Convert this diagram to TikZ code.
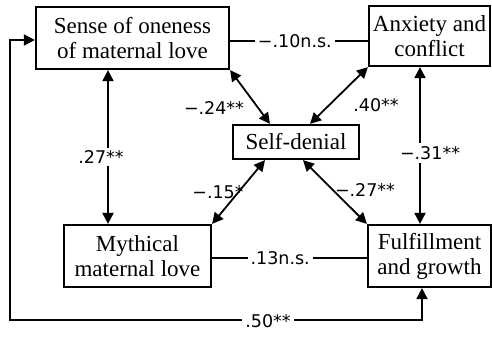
\documentclass[tikz,border=0pt]{standalone}
\usepackage{fontspec}
\setmainfont{Liberation Serif}
\newfontfamily\lblfont{DejaVu Sans}
\usetikzlibrary{arrows.meta}
\begin{document}
\begin{tikzpicture}[x=1pt,y=-1pt,
  box/.style={draw,line width=2.2pt,fill=white,align=center,inner sep=0pt,
    font=\fontsize{23}{25}\selectfont},
  conn/.style={line width=1.8pt},
  bitip/.style={{Triangle[length=11pt,width=11pt]}-{Triangle[length=11pt,width=11pt]}},
  lblf/.style={font=\lblfont\fontsize{17.5}{19}\selectfont},
  lbl/.style={lblf,fill=white,inner sep=3pt}]
\useasboundingbox (0,0) rectangle (492,337);
\node[box,minimum width=193pt,minimum height=62pt] (sense) at (132.5,38) {Sense of oneness\\of maternal love};
\node[box,minimum width=121pt,minimum height=60pt] (anx) at (429.5,36) {Anxiety and\\conflict};
\node[box,minimum width=126pt,minimum height=34pt] (self) at (296,142) {Self-denial};
\node[box,minimum width=147pt,minimum height=62pt] (myth) at (137.5,256) {Mythical\\maternal love};
\node[box,minimum width=123pt,minimum height=62pt] (ful) at (429.5,256) {Fulfillment\\and growth};
\coordinate (corner1) at (10,320);
% lines
\draw[conn] (sense.east |- 0,41) -- (anx.west |- 0,41) node[lbl,pos=0.47] {−.10n.s.};
\draw[conn] (myth.east |- 0,258) -- (ful.west |- 0,258) node[lbl,pos=0.44] {.13n.s.};
\draw[conn,bitip] (sense.south -| 108,0) -- (myth.north -| 108,0);
\node[lbl] (l27) at (101,157) {.27**};
\draw[conn,bitip] (anx.south -| 420,0) -- (ful.north -| 420,0);
\node[lbl] (l31) at (430,153) {−.31**};
\draw[conn,bitip] (sense.south east) -- (self.north -| 270,0);
\node[lblf] (l24) at (214,108) {−.24**};
\draw[conn,bitip] (anx.south west) -- (self.north -| 310,0);
\node[lblf] (l40) at (376,105) {.40**};
\draw[conn,bitip] (self.south -| 265,0) -- (myth.north east);
\node[lblf] (l15) at (218,192) {−.15*};
\draw[conn,bitip] (self.south -| 303,0) -- (ful.north west);
\node[lblf] (l27b) at (365,190) {−.27**};
\draw[conn,bitip] (sense.west |- 0,40) -| (corner1) -| (ful.south -| 422,0);
\node[lbl] (l50) at (268,321) {.50**};
\end{tikzpicture}
\end{document}
